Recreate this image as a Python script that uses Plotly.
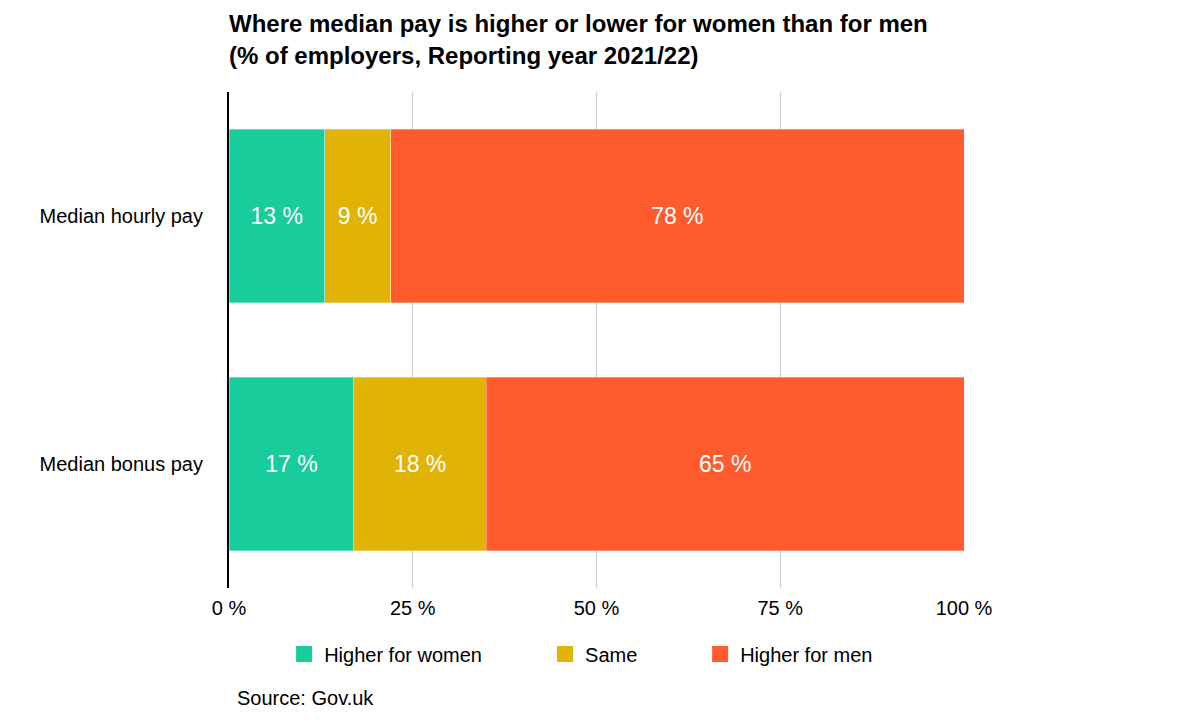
import plotly.graph_objects as go

categories = ["Median hourly pay", "Median bonus pay"]
higher_for_women = [13, 17]
same = [9, 18]
higher_for_men = [78, 65]

series = [
    ("Higher for women", higher_for_women, "#18CC9C"),
    ("Same", same, "#E1B307"),
    ("Higher for men", higher_for_men, "#FF5B2D"),
]

FONT = "Liberation Sans, Arial, sans-serif"

# one legend per series so the entries can sit where the original has them
legend_ids = ["legend", "legend2", "legend3"]
legend_x = [0.075, 0.430, 0.641]

fig = go.Figure()
for (name, vals, color), lg in zip(series, legend_ids):
    fig.add_trace(go.Bar(
        y=categories, x=vals, name=name, orientation="h",
        marker=dict(color=color, line=dict(width=0.5, color="rgba(255,255,255,0.6)")),
        text=[f"{v} %" for v in vals], textposition="inside",
        insidetextanchor="middle", textangle=0,
        textfont=dict(color="white", size=23, family=FONT),
        hoverinfo="skip", showlegend=False,
    ))
    # legend entry with a bigger square swatch
    fig.add_trace(go.Scatter(
        x=[None], y=[None], mode="markers", name=name, legend=lg,
        marker=dict(symbol="square", size=20, color=color),
        showlegend=True, hoverinfo="skip",
    ))

legend_common = dict(
    orientation="h", y=-0.133, yanchor="middle", xanchor="left",
    font=dict(size=20, family=FONT), bgcolor="rgba(0,0,0,0)",
    itemwidth=30,
)

fig.update_layout(
    barmode="stack",
    bargap=0.3,
    width=1191, height=720,
    plot_bgcolor="white", paper_bgcolor="white",
    margin=dict(l=221, r=235, t=84, b=140),  # page adds 8px body margin
    font=dict(family=FONT, size=20, color="#000"),
    title=dict(
        text="<b>Where median pay is higher or lower for women than for men<br>(% of employers, Reporting year 2021/22)</b>",
        x=221 / 1191, xanchor="left", y=0.966, yanchor="top",
        font=dict(size=24, family=FONT),
    ),
    legend=dict(x=legend_x[0], **legend_common),
    legend2=dict(x=legend_x[1], **legend_common),
    legend3=dict(x=legend_x[2], **legend_common),
    annotations=[dict(
        text="Source: Gov.uk", xref="paper", yref="paper",
        x=0.008, y=-0.222, xanchor="left", yanchor="middle",
        showarrow=False, font=dict(size=20, family=FONT),
    )],
    uniformtext=dict(minsize=10, mode="show"),
)

fig.update_xaxes(
    range=[0, 100], tickvals=[0, 25, 50, 75, 100],
    ticktext=["0 %", "25 %", "50 %", "75 %", "100 %"],
    showgrid=True, gridcolor="#CCCCCC", gridwidth=1,
    zeroline=False, ticks="", tickfont=dict(size=20), fixedrange=True,
    automargin=False, ticklabelstandoff=6,
)
fig.update_yaxes(
    autorange="reversed", showline=True, linecolor="black", linewidth=2,
    ticks="", ticklabelstandoff=20, tickfont=dict(size=20), fixedrange=True,
    automargin=False,
)

fig.write_html("out.html")
